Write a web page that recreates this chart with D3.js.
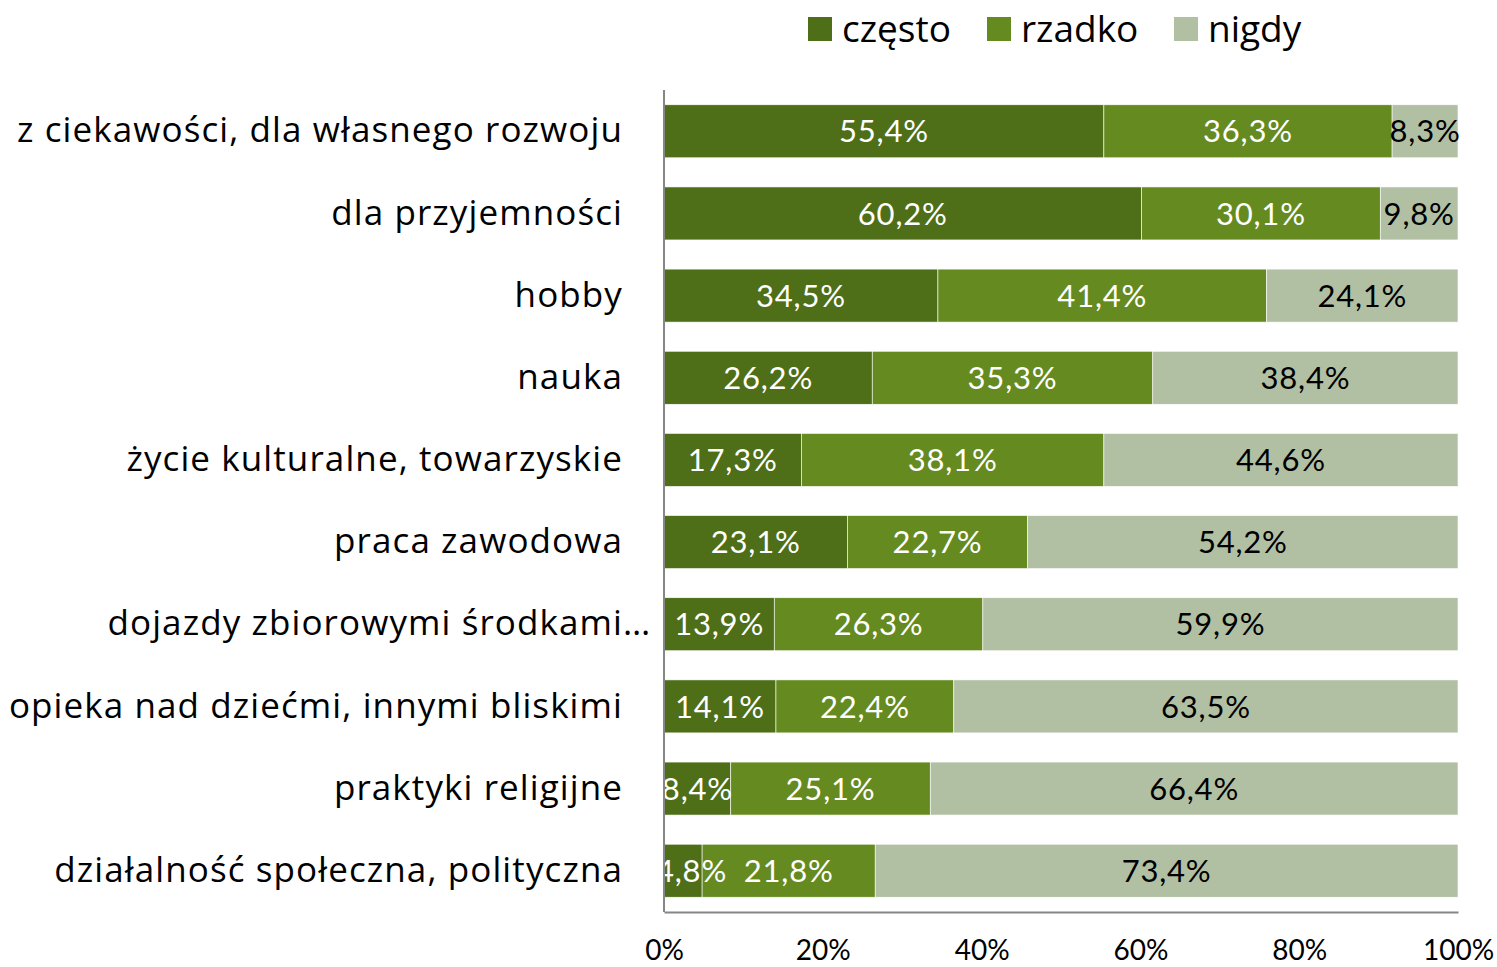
<!DOCTYPE html>
<html>
<head>
<meta charset="utf-8">
<script src="https://cdn.jsdelivr.net/npm/d3@7"></script>
<style>
  body { margin: 0; background: #fff; }
  svg text { font-family: "Open Sans", Lato, sans-serif; }
</style>
</head>
<body>
<svg id="chart"></svg>
<script>
// Categories (top to bottom)
const categories = [
  'z ciekawości, dla własnego rozwoju',
  'dla przyjemności',
  'hobby',
  'nauka',
  'życie kulturalne, towarzyskie',
  'praca zawodowa',
  'dojazdy zbiorowymi środkami…',
  'opieka nad dziećmi, innymi bliskimi',
  'praktyki religijne',
  'działalność społeczna, polityczna'
];

const seriesNames = ['często', 'rzadko', 'nigdy'];
const czesto = [55.4, 60.2, 34.5, 26.2, 17.3, 23.1, 13.9, 14.1, 8.4, 4.8];
const rzadko = [36.3, 30.1, 41.4, 35.3, 38.1, 22.7, 26.3, 22.4, 25.1, 21.8];
const nigdy = [8.3, 9.8, 24.1, 38.4, 44.6, 54.2, 59.9, 63.5, 66.4, 73.4];
const tickValues = [0, 0.2, 0.4, 0.6, 0.8, 1];

const colors = ['#4e6e18', '#658a20', '#b1bfa3'];
const labelColors = ['#fff', '#fff', '#000'];

const width = 1497, height = 967;
const margin = {top: 90, right: 39, bottom: 55, left: 664};
const innerW = width - margin.left - margin.right;
const innerH = height - margin.top - margin.bottom;

// Build 100% stacked rows
const rows = categories.map((c, i) => {
  const vals = [czesto[i], rzadko[i], nigdy[i]];
  const total = d3.sum(vals);
  let acc = 0;
  return vals.map((v, k) => {
    const seg = {cat: c, key: seriesNames[k], k, value: v, x0: acc / total, x1: (acc + v) / total};
    acc += v;
    return seg;
  });
});

const svg = d3.select('#chart').attr('width', width).attr('height', height);
const chart = svg.append('g').attr('transform', `translate(${margin.left},${margin.top})`);

const xScale = d3.scaleLinear().domain([0, 1]).range([0, innerW]);
const yScale = d3.scaleBand().domain(categories).range([0, innerH])
  .paddingInner(0.355).paddingOuter(0.18);

// clip labels on the left edge of the plot
svg.append('defs').append('clipPath').attr('id', 'plotclip')
  .append('rect').attr('x', 0).attr('y', -10).attr('width', innerW + 60).attr('height', innerH + 20);

const barsG = chart.append('g').attr('clip-path', 'url(#plotclip)');

const groups = barsG.selectAll('.row')
  .data(rows)
  .join('g')
  .attr('class', 'row')
  .attr('transform', d => `translate(0,${yScale(d[0].cat)})`);

groups.selectAll('rect')
  .data(d => d)
  .join('rect')
  .attr('x', d => xScale(d.x0))
  .attr('width', d => xScale(d.x1) - xScale(d.x0))
  .attr('height', yScale.bandwidth())
  .attr('fill', d => colors[d.k])
  .attr('stroke', '#fff')
  .attr('stroke-width', 0.6);

groups.selectAll('text')
  .data(d => d)
  .join('text')
  .attr('x', d => xScale((d.x0 + d.x1) / 2))
  .attr('y', yScale.bandwidth() / 2)
  .attr('dy', '0.36em')
  .attr('text-anchor', 'middle')
  .attr('fill', d => labelColors[d.k])
  .style('font-family', 'Lato, sans-serif')
  .style('font-size', '31px')
  .style('letter-spacing', '0.8px')
  .text(d => d3.format('.1f')(d.value).replace('.', ',') + '%')
  .each(function() {
    // label overflowing the left edge gets nudged in a bit, like Excel does
    const bb = this.getBBox();
    if (bb.x < -8) d3.select(this).attr('x', +d3.select(this).attr('x') + (-8 - bb.x));
  });

// Axes
const yAxis = d3.axisLeft(yScale).tickSize(0).tickPadding(41);
const yAxisG = chart.append('g').call(yAxis);
yAxisG.select('.domain').attr('stroke', '#868686').attr('stroke-width', 2)
  .attr('d', `M0,0V${innerH}`);
yAxisG.selectAll('text').style('font-size', '35px').attr('fill', '#000')
  .style('font-family', '"Open Sans", Lato, sans-serif')
  .style('letter-spacing', '1.1px')
  .each(function(d) {
    // truncated label: the ellipsis hangs past the right edge
    if (d.endsWith('…')) {
      const t = d3.select(this);
      const full = this.getComputedTextLength();
      t.text(d.slice(0, -1));
      const w = full - this.getComputedTextLength();
      t.text(d).attr('dx', w);
    }
  });

const xAxis = d3.axisBottom(xScale).tickValues(tickValues).tickSize(0).tickPadding(28)
  .tickFormat(d3.format('.0%'));
const xAxisG = chart.append('g').attr('transform', `translate(0,${innerH})`).call(xAxis);
xAxisG.select('.domain').attr('stroke', '#868686').attr('stroke-width', 2);
xAxisG.selectAll('text').style('font-size', '28px').attr('fill', '#000')
  .style('font-family', 'Lato, sans-serif');

// Legend
const legendX = [808, 987, 1174];
const legend = svg.append('g').selectAll('g')
  .data(seriesNames)
  .join('g')
  .attr('transform', (d, i) => `translate(${legendX[i]},17)`);
legend.append('rect').attr('width', 24).attr('height', 24).attr('fill', (d, i) => colors[i]);
legend.append('text').attr('x', 34).attr('y', 12).attr('dy', '0.36em')
  .style('font-size', '37px').attr('fill', '#000').text(d => d);
</script>
</body>
</html>
